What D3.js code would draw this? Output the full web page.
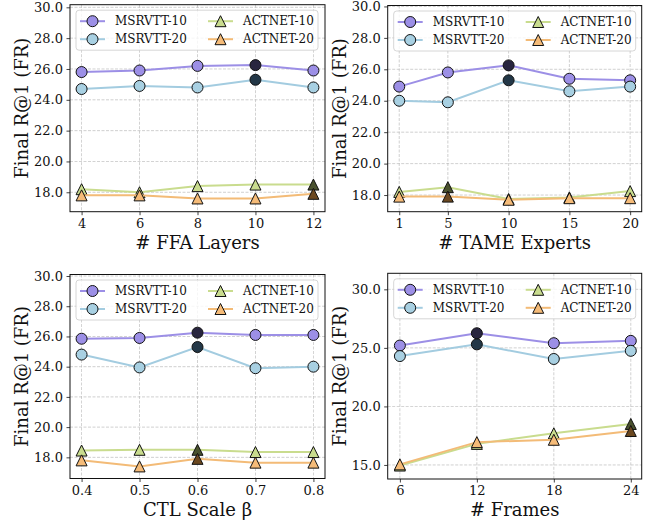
<!DOCTYPE html>
<html>
<head>
<meta charset="utf-8">
<script src="https://cdn.jsdelivr.net/npm/d3@7"></script>
<style>
  html, body { margin: 0; padding: 0; background: #fff; }
  svg { display: block; }
</style>
</head>
<body>
<svg id="chart" width="655" height="523"></svg>
<script>
// ---------------- DATA ----------------
const seriesNames = ["MSRVTT-10", "MSRVTT-20", "ACTNET-10", "ACTNET-20"];
const seriesShapes = ["circle", "circle", "triangle", "triangle"];

// Panel 1: # FFA Layers
const ffaX = [4, 6, 8, 10, 12];
const ffaValues = [
  [25.8, 25.9, 26.2, 26.25, 25.9],
  [24.7, 24.9, 24.8, 25.3, 24.8],
  [18.2, 18.0, 18.4, 18.5, 18.5],
  [17.8, 17.8, 17.6, 17.6, 17.9]
];
const ffaBest = [3, 3, 4, 4];

// Panel 2: # TAME Experts
const tameX = [1, 5, 10, 15, 20];
const tameValues = [
  [24.9, 25.8, 26.25, 25.4, 25.3],
  [24.0, 23.9, 25.3, 24.6, 24.9],
  [18.2, 18.5, 17.75, 17.85, 18.25],
  [17.9, 17.9, 17.7, 17.8, 17.8]
];
const tameBest = [2, 2, 1, 1];

// Panel 3: CTL Scale β
const ctlX = [0.4, 0.5, 0.6, 0.7, 0.8];
const ctlValues = [
  [25.85, 25.9, 26.25, 26.1, 26.1],
  [24.8, 23.95, 25.3, 23.9, 24.0],
  [18.45, 18.5, 18.5, 18.35, 18.35],
  [17.8, 17.4, 17.9, 17.65, 17.65]
];
const ctlBest = [2, 2, 2, 2];

// Panel 4: # Frames
const framesX = [6, 12, 18, 24];
const framesValues = [
  [25.2, 26.25, 25.4, 25.6],
  [24.3, 25.3, 24.05, 24.75],
  [14.95, 16.8, 17.7, 18.5],
  [15.05, 16.95, 17.15, 17.9]
];
const framesBest = [1, 1, 3, 3];

const yTicksA = [18, 20, 22, 24, 26, 28, 30];
const yTicksB = [15, 20, 25, 30];
const xLabels = ["# FFA Layers", "# TAME Experts", "CTL Scale β", "# Frames"];
const yLabel = "Final R@1 (FR)";

// ---------------- STYLE ----------------
const FONT = "DejaVu Serif";
const lineColors = ["#9c8fe6", "#a3cce0", "#c9dc8e", "#f3bb77"];
const fillColors = ["#9c8fe6", "#a8d0e2", "#c9dc8e", "#f5bb78"];
const bestColors = ["#28253f", "#233747", "#4a522e", "#6b4820"];

const panels = [
  { x: ffaX, v: ffaValues, best: ffaBest, L: 70, R: 325, T: 4.7, B: 211.7,
    xd: [3.6, 12.4], yd: [16.74, 30.17], yt: yTicksA, xf: d3.format("d"), label: xLabels[0] },
  { x: tameX, v: tameValues, best: tameBest, L: 387.7, R: 641.7, T: 5.5, B: 211.7,
    xd: [0.05, 20.95], yd: [16.94, 30.06], yt: yTicksA, xf: d3.format("d"), label: xLabels[1] },
  { x: ctlX, v: ctlValues, best: ctlBest, L: 70, R: 325, T: 274.5, B: 478.5,
    xd: [0.38, 0.82], yd: [16.6, 30.1], yt: yTicksA, xf: d3.format(".1f"), label: xLabels[2] },
  { x: framesX, v: framesValues, best: framesBest, L: 387.7, R: 641.7, T: 273.3, B: 479,
    xd: [5.05, 24.85], yd: [13.8, 31.37], yt: yTicksB, xf: d3.format("d"), label: xLabels[3] }
];

const svg = d3.select("#chart");
const tri = r => `M0,${-r}L${-r},${r}L${r},${r}Z`;

function drawMarker(g, shape, x, y, fill) {
  if (shape === "circle") {
    g.append("circle").attr("cx", x).attr("cy", y).attr("r", 5.5)
      .attr("fill", fill).attr("stroke", "#111").attr("stroke-width", 1);
  } else {
    g.append("path").attr("d", tri(5.5)).attr("transform", `translate(${x},${y})`)
      .attr("fill", fill).attr("stroke", "#111").attr("stroke-width", 1)
      .attr("stroke-linejoin", "miter");
  }
}

panels.forEach((p, pi) => {
  const xs = d3.scaleLinear().domain(p.xd).range([p.L, p.R]);
  const ys = d3.scaleLinear().domain(p.yd).range([p.B, p.T]);
  const g = svg.append("g");

  // grid
  const grid = g.append("g");
  p.x.forEach(t => grid.append("line")
    .attr("x1", xs(t)).attr("x2", xs(t)).attr("y1", p.T).attr("y2", p.B));
  p.yt.forEach(t => grid.append("line")
    .attr("x1", p.L).attr("x2", p.R).attr("y1", ys(t)).attr("y2", ys(t)));
  grid.selectAll("line").attr("stroke", "#b8b8b8").attr("stroke-width", 0.8)
    .attr("stroke-dasharray", "3,1.5").attr("opacity", 0.8);

  // axes
  const xAxis = d3.axisBottom(xs).tickValues(p.x).tickFormat(p.xf).tickSizeInner(3.5).tickSizeOuter(0).tickPadding(3.5);
  const yAxis = d3.axisLeft(ys).tickValues(p.yt).tickFormat(d3.format(".1f")).tickSizeInner(3.5).tickSizeOuter(0).tickPadding(3.5);
  const gx = g.append("g").attr("transform", `translate(0,${p.B})`).call(xAxis);
  const gy = g.append("g").attr("transform", `translate(${p.L},0)`).call(yAxis);
  [gx, gy].forEach(a => {
    a.attr("font-family", null).attr("font-size", null);
    a.select(".domain").remove();
    a.selectAll(".tick line").attr("stroke", "#111").attr("stroke-width", 0.8);
    a.selectAll(".tick text").style("font-family", FONT).style("font-size", "13px").attr("fill", "#111");
  });

  // series
  const lineGen = d3.line().x(d => xs(d[0])).y(d => ys(d[1]));
  p.v.forEach((vals, si) => {
    const pts = p.x.map((xv, i) => [xv, vals[i]]);
    g.append("path").attr("d", lineGen(pts)).attr("fill", "none")
      .attr("stroke", lineColors[si]).attr("stroke-width", 2);
    pts.forEach((d, i) => {
      if (i !== p.best[si]) drawMarker(g, seriesShapes[si], xs(d[0]), ys(d[1]), fillColors[si]);
    });
  });
  p.v.forEach((vals, si) => {
    const i = p.best[si];
    drawMarker(g, seriesShapes[si], xs(p.x[i]), ys(vals[i]), bestColors[si]);
  });

  // frame
  g.append("rect").attr("x", p.L).attr("y", p.T).attr("width", p.R - p.L).attr("height", p.B - p.T)
    .attr("fill", "none").attr("stroke", "#111").attr("stroke-width", 1);

  // legend
  const lx = p.L + 6, ly = p.T + 5.5;
  const lg = g.append("g");
  lg.append("rect").attr("x", lx).attr("y", ly).attr("width", 242).attr("height", 40)
    .attr("rx", 3).attr("fill", "#fff").attr("fill-opacity", 0.8).attr("stroke", "#ccc").attr("stroke-width", 0.8);
  seriesNames.forEach((name, si) => {
    const col = Math.floor(si / 2), row = si % 2;
    const x0 = lx + 4 + col * 128, yc = ly + 11 + row * 18;
    lg.append("line").attr("x1", x0).attr("x2", x0 + 25).attr("y1", yc).attr("y2", yc)
      .attr("stroke", lineColors[si]).attr("stroke-width", 2);
    drawMarker(lg, seriesShapes[si], x0 + 12.5, yc, fillColors[si]);
    lg.append("text").attr("x", x0 + 35).attr("y", yc).attr("dy", "0.35em")
      .style("font-family", FONT).style("font-size", "12px").attr("fill", "#111").text(name);
  });

  // labels
  g.append("text").attr("x", (p.L + p.R) / 2).attr("y", p.B + 37)
    .attr("text-anchor", "middle").style("font-family", FONT).style("font-size", "18px")
    .attr("fill", "#111").text(p.label);
  const ylx = pi % 2 === 0 ? 21.7 : 340;
  g.append("text").attr("transform", `translate(${ylx},${(p.T + p.B) / 2}) rotate(-90)`)
    .attr("text-anchor", "middle").attr("dy", "0.35em").style("font-family", FONT).style("font-size", "18px")
    .attr("fill", "#111").text(yLabel);
});
</script>
</body>
</html>
